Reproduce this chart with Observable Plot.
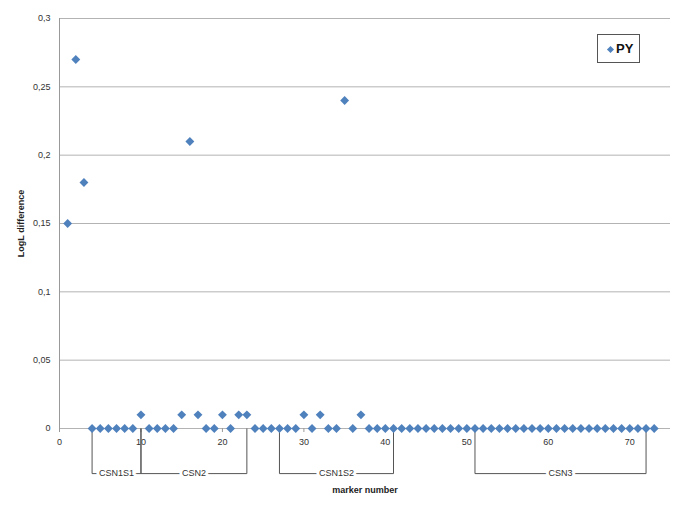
<!DOCTYPE html>
<html>
<head>
<meta charset="utf-8">
<script src="https://cdn.jsdelivr.net/npm/d3@7"></script>
<script src="https://cdn.jsdelivr.net/npm/@observablehq/plot@0.6"></script>
<style>
  html, body { margin: 0; padding: 0; background: #fff; }
  #wrap { position: relative; width: 685px; height: 505px; }
  svg { font-family: "Liberation Sans", "DejaVu Sans", sans-serif; }
  g[aria-label="x-axis label"] text, g[aria-label="y-axis label"] text { font-weight: bold; fill: #222; }
  #legend { position: absolute; left: 597px; top: 34px; width: 43px; height: 29px; border: 1px solid #555;
    box-sizing: border-box; background: #fff; font-family: "Liberation Sans", sans-serif; font-weight: bold;
    font-size: 13px; color: #111; }
  #legend .sym { position: absolute; left: 10px; top: 12px; width: 5px; height: 5px; background: #4F81BD; transform: rotate(45deg); }
  #legend .lab { position: absolute; left: 18px; top: 6px; }
</style>
</head>
<body>
<div id="wrap"></div>
<script>
// Series: LogL difference per marker (markers 1..73)
const seriesName = "PY";
const logLDiff = [
  0.15, 0.27, 0.18, 0, 0, 0, 0, 0, 0, 0.01,
  0, 0, 0, 0, 0.01, 0.21, 0.01, 0, 0, 0.01,
  0, 0.01, 0.01, 0, 0, 0, 0, 0, 0, 0.01,
  0, 0.01, 0, 0, 0.24, 0, 0.01, 0, 0, 0,
  0, 0, 0, 0, 0, 0, 0, 0, 0, 0,
  0, 0, 0, 0, 0, 0, 0, 0, 0, 0,
  0, 0, 0, 0, 0, 0, 0, 0, 0, 0,
  0, 0, 0
];
const markerNumbers = logLDiff.map((_, i) => i + 1);

// Gene regions along the marker axis
const genes = ["CSN1S1", "CSN2", "CSN1S2", "CSN3"];
const geneStart = [4, 10, 27, 51];
const geneEnd = [10, 23, 41, 72];

const xTicks = [0, 10, 20, 30, 40, 50, 60, 70];
const yTicks = [0, 0.05, 0.1, 0.15, 0.2, 0.25, 0.3];

const points = markerNumbers.map((m, i) => ({marker: m, value: logLDiff[i]}));
const regions = genes.map((g, i) => ({gene: g, start: geneStart[i], end: geneEnd[i], mid: (geneStart[i] + geneEnd[i]) / 2}));
const bracketY = -0.033;

const chart = Plot.plot({
  width: 685,
  height: 505,
  marginLeft: 59,
  marginRight: 15,
  marginTop: 18,
  marginBottom: 77,
  style: {fontSize: "9px", color: "#333", background: "#fff"},
  x: {domain: [0, 75]},
  y: {domain: [0, 0.3]},
  marks: [
    Plot.gridY(yTicks, {stroke: "#b3b3b3", strokeOpacity: 1}),
    Plot.ruleX([0], {stroke: "#999"}),
    Plot.axisY(yTicks, {tickSize: 0, tickPadding: 9, tickFormat: d => String(d).replace(".", ","),
      label: "LogL difference", labelAnchor: "center", labelArrow: "none", labelOffset: 42, fill: "#333"}),
    Plot.axisX(xTicks, {tickSize: 4, tickPadding: 6, stroke: "#999", fill: "#333",
      label: "marker number", labelAnchor: "center", labelArrow: "none", labelOffset: 64}),
    // gene brackets below the axis
    Plot.link(regions, {x1: "start", x2: "start", y1: 0, y2: bracketY, stroke: "#555"}),
    Plot.link(regions, {x1: "end", x2: "end", y1: 0, y2: bracketY, stroke: "#555"}),
    Plot.link(regions, {x1: "start", x2: "end", y1: bracketY, y2: bracketY, stroke: "#555"}),
    Plot.text(regions, {x: "mid", y: bracketY, text: "gene", fill: "#333", stroke: "white", strokeWidth: 6, fontSize: 9}),
    Plot.dot(points, {x: "marker", y: "value", symbol: "diamond2", r: 4, fill: "#4F81BD", stroke: "none"})
  ]
});
const wrap = document.getElementById("wrap");
wrap.appendChild(chart);
const legend = document.createElement("div");
legend.id = "legend";
legend.innerHTML = `<span class="sym"></span><span class="lab">${seriesName}</span>`;
wrap.appendChild(legend);
</script>
</body>
</html>
